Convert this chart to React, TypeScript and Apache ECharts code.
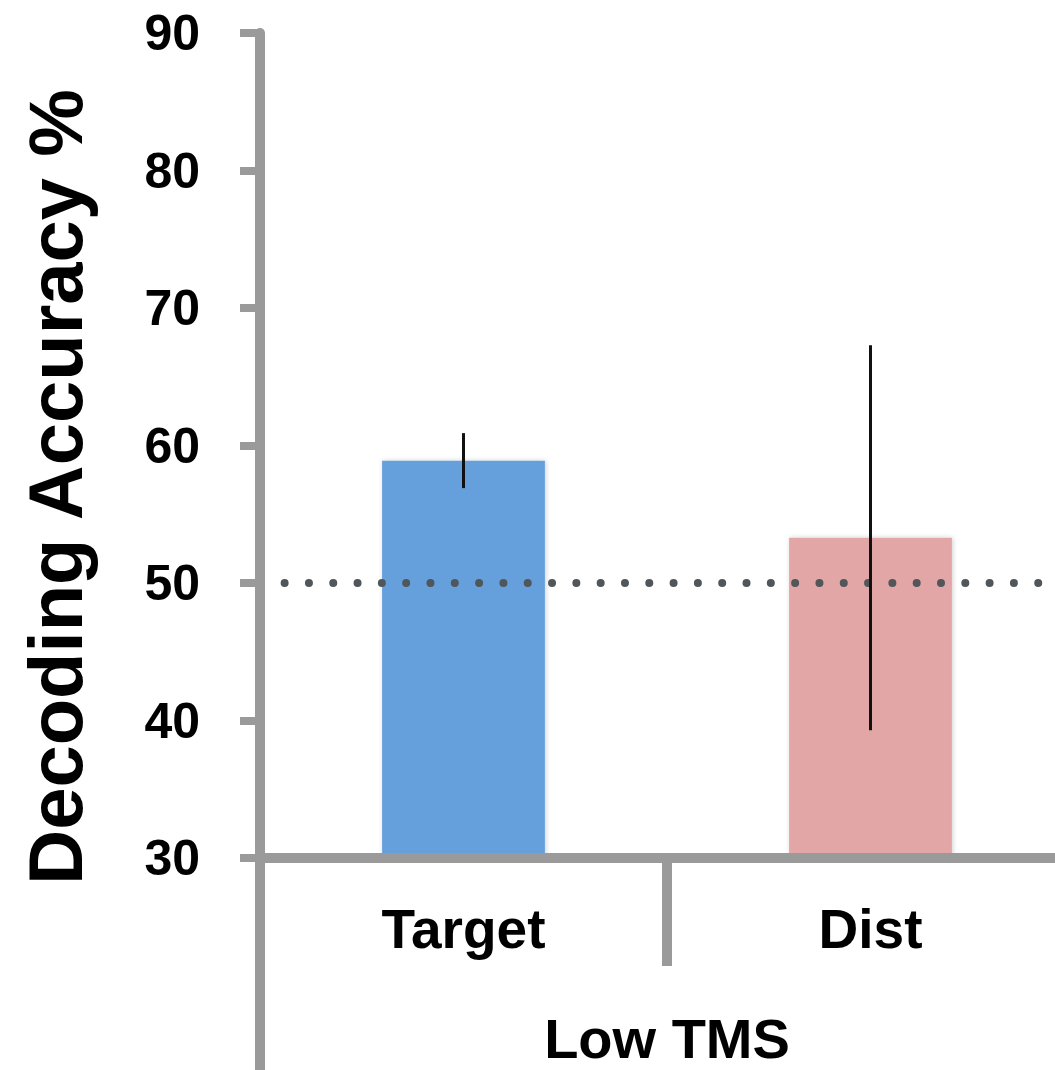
import React, { useEffect, useRef } from "react";
import * as echarts from "echarts";

const categories = ["Target", "Dist"];
const groupLabel = ["Low TMS"];
const meanValues = [58.9, 53.3];
const errorValues = [2.0, 14.0];
const barColors = ["#66a0dc", "#e1a6a5"];
const chanceLevel = 50;
const yTicks = { min: 30, max: 90, interval: 10 };
const yTitle = "Decoding Accuracy %";

const FONT = "'Liberation Sans', Arial, Helvetica, sans-serif";
const AXIS_GRAY = "#9a9a9a";

export default function App() {
  const ref = useRef<HTMLDivElement>(null);

  useEffect(() => {
    if (!ref.current) return;
    const chart = echarts.init(ref.current, undefined, { renderer: "svg" });

    const errorData = meanValues.map((m, i) => [i, m - errorValues[i], m + errorValues[i]]);

    chart.setOption({
      animation: false,
      backgroundColor: "#ffffff",
      grid: { left: 260, right: 0, top: 33, bottom: 212, containLabel: false },
      xAxis: [
        {
          type: "category",
          data: categories,
          position: "bottom",
          z: 5,
          axisLine: { show: true, lineStyle: { color: AXIS_GRAY, width: 10 } },
          axisTick: { show: true, length: 108, interval: 0, lineStyle: { color: AXIS_GRAY, width: 10 } },
          axisLabel: {
            margin: 43,
            color: "#000",
            fontSize: 55,
            fontWeight: "bold",
            fontFamily: FONT,
          },
          splitLine: { show: false },
        },
        {
          type: "category",
          data: groupLabel,
          position: "bottom",
          offset: 0,
          z: 5,
          axisLine: { show: false },
          axisTick: { show: true, length: 212, interval: 0, lineStyle: { color: AXIS_GRAY, width: 10 } },
          axisLabel: {
            margin: 152,
            color: "#000",
            fontSize: 56,
            fontWeight: "bold",
            fontFamily: FONT,
          },
          splitLine: { show: false },
        },
      ],
      yAxis: {
        type: "value",
        min: yTicks.min,
        max: yTicks.max,
        interval: yTicks.interval,
        z: 5,
        axisLine: { show: true, lineStyle: { color: AXIS_GRAY, width: 10 } },
        axisTick: { show: true, length: 20, lineStyle: { color: AXIS_GRAY, width: 8 } },
        axisLabel: {
          margin: 60,
          color: "#000",
          fontSize: 50,
          fontWeight: "bold",
          fontFamily: FONT,
        },
        splitLine: { show: false },
      },
      graphic: [
        {
          type: "text",
          x: 55,
          y: 487,
          rotation: Math.PI / 2,
          style: {
            text: yTitle,
            fill: "#000",
            font: `bold 76px ${FONT}`,
            textAlign: "center",
            textVerticalAlign: "middle",
          },
        },
      ],
      series: [
        {
          type: "bar",
          xAxisIndex: 0,
          barWidth: "40%",
          z: 2,
          data: meanValues.map((v, i) => ({
            value: v,
            itemStyle: {
              color: barColors[i],
              shadowColor: "rgba(0,0,0,0.18)",
              shadowBlur: 5,
              shadowOffsetX: 1,
            },
          })),
          markLine: {
            silent: true,
            symbol: "none",
            label: { show: false },
            z: 4,
            lineStyle: {
              color: "#51565b",
              width: 8,
              type: [0.01, 24.3],
              cap: "round",
              dashOffset: -0.7 + 24.3,
            },
            data: [{ yAxis: chanceLevel }],
          },
        },
        {
          type: "custom",
          xAxisIndex: 0,
          z: 6,
          data: errorData,
          renderItem: (params: any, api: any) => {
            const x = api.value(0);
            const lo = api.coord([x, api.value(1)]);
            const hi = api.coord([x, api.value(2)]);
            return {
              type: "line",
              shape: { x1: lo[0], y1: lo[1], x2: hi[0], y2: hi[1] },
              style: { stroke: "#111111", lineWidth: 3 },
            };
          },
        },
      ],
    });

    return () => chart.dispose();
  }, []);

  return (
    <div
      style={{
        position: "absolute",
        left: 0,
        top: 0,
        width: 1055,
        height: 1070,
        overflow: "hidden",
        background: "#fff",
      }}
    >
      <div ref={ref} style={{ width: 1074, height: 1070 }} />
    </div>
  );
}
